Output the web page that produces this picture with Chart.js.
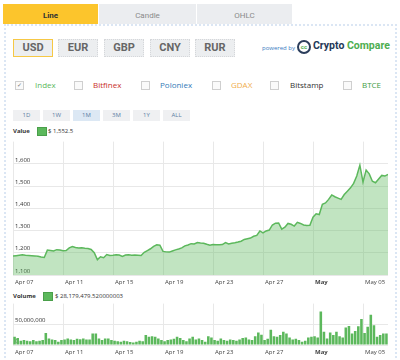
<!DOCTYPE html>
<html>
<head>
<meta charset="utf-8">
<script src="https://cdn.jsdelivr.net/npm/chart.js@4"></script>
<style>
  body { margin: 0; width: 400px; height: 360px; overflow: hidden; background: #fff; font-family: 'Open Sans', sans-serif; position: relative; }
  .abs { position: absolute; }
  .tab { position: absolute; top: 4px; height: 20px; display: flex; align-items: center; justify-content: center; font: 8px Roboto, sans-serif; padding-top: 2px; box-sizing: border-box; color: #8a8a8a; background: #ebedf0; }
  .tab.on { background: #fcc52c; color: #333; font-weight: bold; }
  .box { position: absolute; left: 4px; top: 24px; width: 389px; height: 332px; border: 2px dotted #dbe6f4; border-bottom: none; }
  .cur { position: absolute; top: 39px; width: 38px; height: 16px; font: bold 11px Roboto, sans-serif; line-height: 16px; text-align: center; background: #eceef0; border: 1px dotted #d5d7da; color: #666; }
  .cur.on { border: 1px solid #f6c845; }
  .chk { position: absolute; top: 81px; width: 7px; height: 7px; border: 1px solid #cfcfcf; background: #fafafa; font-size: 6px; line-height: 7px; text-align: center; color: #777; }
  .leg { position: absolute; top: 79px; font-size: 8px; line-height: 12px; }
  .rng { position: absolute; top: 110px; width: 27px; height: 11px; line-height: 11px; text-align: center; background: #eff0f2; font-size: 6px; color: #5b7da3; }
  .rng.on { background: #dce8f4; }
  .hdr { position: absolute; font-size: 6px; line-height: 8px; color: #333; }
  .sq { position: absolute; width: 8px; height: 7px; background: #5cb85c; border: 1px solid #4a9f4a; }
</style>
</head>
<body>
<div class="box"></div>
<div class="tab on" style="left:3px;width:95px;">Line</div>
<div class="tab" style="left:99px;width:97px;">Candle</div>
<div class="tab" style="left:197px;width:95px;">OHLC</div>

<div class="cur on" style="left:13px;">USD</div>
<div class="cur" style="left:58px;">EUR</div>
<div class="cur" style="left:104px;">GBP</div>
<div class="cur" style="left:150px;">CNY</div>
<div class="cur" style="left:195px;">RUR</div>

<div class="abs" style="left:262px;top:44px;font-size:6px;color:#3a7bbf;">powered by</div>
<div class="abs" style="left:297px;top:40px;width:10px;height:10px;border:2px solid #2b3d5b;border-radius:50%;font:bold 6px Roboto,sans-serif;line-height:10px;text-align:center;color:#4dae50;">cc</div>
<div class="abs" style="left:313px;top:39px;font:bold 10.5px Roboto,sans-serif;line-height:14px;"><span style="color:#253858;">Crypto</span> <span style="color:#4dae50;">Compare</span></div>

<div class="chk" style="left:15px;">&#10003;</div><div class="leg" style="left:35px;color:#5cb85c;">Index</div>
<div class="chk" style="left:74px;"></div><div class="leg" style="left:93px;color:#c9302c;">Bitfinex</div>
<div class="chk" style="left:141px;"></div><div class="leg" style="left:160px;color:#337ab7;">Poloniex</div>
<div class="chk" style="left:212px;"></div><div class="leg" style="left:231px;color:#f0ad4e;">GDAX</div>
<div class="chk" style="left:270px;"></div><div class="leg" style="left:290px;color:#333;">Bitstamp</div>
<div class="chk" style="left:343px;"></div><div class="leg" style="left:362px;color:#449d44;">BTCE</div>

<div class="rng" style="left:13px;">1D</div>
<div class="rng" style="left:43px;">1W</div>
<div class="rng on" style="left:73px;">1M</div>
<div class="rng" style="left:103px;">3M</div>
<div class="rng" style="left:133px;">1Y</div>
<div class="rng" style="left:163px;">ALL</div>

<div class="hdr" style="left:13px;top:127px;font-weight:bold;">Value</div>
<div class="sq" style="left:37px;top:127px;"></div>
<div class="hdr" style="left:48px;top:127px;">$ 1,552.5</div>

<div class="hdr" style="left:13px;top:292px;font-weight:bold;">Volume</div>
<div class="sq" style="left:43px;top:292px;"></div>
<div class="hdr" style="left:55px;top:292px;">$ 28,179,479.520000003</div>

<canvas id="priceChart" class="abs" style="left:0;top:136px;" width="400" height="154"></canvas>
<canvas id="volumeChart" class="abs" style="left:0;top:298px;" width="400" height="62"></canvas>

<script>
// one point every 6 hours, starting Apr 07 00:00
const tickLabels = ['Apr 07', 'Apr 11', 'Apr 15', 'Apr 19', 'Apr 23', 'Apr 27', 'May', 'May 05'];
const pointsPerTick = 16;

const prices = [
  1185, 1187, 1189, 1191, 1189, 1188, 1187, 1186, 1184, 1181, 1179, 1212, 1210, 1208, 1214, 1212,
  1209, 1210, 1222, 1228, 1224, 1221, 1222, 1220, 1219, 1215, 1200, 1169, 1182, 1178, 1192, 1188,
  1189, 1191, 1190, 1184, 1190, 1191, 1189, 1190, 1189, 1188, 1202, 1210, 1218, 1229, 1236, 1234,
  1206, 1204, 1203, 1208, 1213, 1217, 1222, 1231, 1235, 1241, 1240, 1246, 1244, 1243, 1238, 1234,
  1237, 1236, 1236, 1237, 1246, 1240, 1243, 1245, 1248, 1252, 1260, 1263, 1266, 1274, 1278, 1298,
  1289, 1298, 1302, 1325, 1333, 1334, 1306, 1315, 1332, 1328, 1320, 1337, 1332, 1325, 1323, 1324,
  1360, 1375, 1372, 1418, 1424, 1440, 1460, 1452, 1446, 1440, 1462, 1477, 1492, 1512, 1545, 1594,
  1518, 1572, 1555, 1522, 1515, 1532, 1548, 1545, 1552.5
];

// volume per 6h, in millions
const volumes = [
  20, 17, 10, 12, 10, 9, 12, 9, 10, 12, 29, 16, 13, 12, 8, 12,
  13, 16, 13, 12, 15, 14, 16, 13, 13, 28, 28, 16, 12, 16, 16, 12,
  10, 9, 8, 10, 9, 7, 6, 8, 10, 9, 24, 20, 21, 20, 16, 12,
  9, 12, 13, 15, 20, 17, 12, 9, 16, 20, 13, 16, 12, 8, 21, 18,
  12, 10, 16, 12, 10, 13, 12, 10, 13, 17, 18, 13, 12, 21, 30, 25,
  12, 15, 37, 21, 20, 24, 32, 28, 18, 13, 15, 12, 8, 10, 18, 20,
  21, 18, 81, 32, 16, 30, 24, 32, 21, 18, 42, 46, 28, 34, 45, 63,
  29, 44, 73, 48, 20, 24, 28, 28
];

const gridColor = '#e8e8e8';
const tickFont = { family: 'Open Sans', size: 6 };

function xScale(maxX) {
  return {
    type: 'linear', min: 0, max: maxX, offset: false,
    afterBuildTicks: a => { a.ticks = a.ticks.filter(t => t.value % pointsPerTick === 0 && t.value < maxX); },
    afterFit: a => { a.height = 15; },
    grid: { color: gridColor, drawTicks: false, offset: false },
    border: { display: false },
    ticks: {
      stepSize: pointsPerTick, autoSkip: false, maxRotation: 0, align: 'start', labelOffset: 2, padding: 4,
      color: '#444',
      font: c => (c.tick && c.tick.value === 6 * pointsPerTick) ? { family: 'Open Sans', size: 6, weight: 'bold' } : tickFont,
      callback: v => tickLabels[v / pointsPerTick]
    }
  };
}

function yScale(min, max, step, fmt) {
  return {
    min: min, max: max,
    afterFit: a => { a.width = 0; },
    grid: { color: c => c.tick.value === max ? 'transparent' : gridColor, drawTicks: false },
    border: { display: false },
    ticks: {
      stepSize: step, mirror: true, padding: 2, labelOffset: -4, color: '#333', font: tickFont,
      callback: v => v === max ? '' : fmt(v)
    }
  };
}

new Chart(document.getElementById('priceChart'), {
  type: 'line',
  data: {
    datasets: [{
      data: prices.map((p, i) => ({ x: i, y: p })),
      borderColor: '#5cb85c',
      backgroundColor: 'rgba(92,184,92,0.38)',
      borderWidth: 1.5,
      fill: 'start',
      pointRadius: 0,
      tension: 0
    }]
  },
  options: {
    responsive: false,
    animation: false,
    layout: { padding: { left: 13, right: 12, top: 2, bottom: 0 } },
    plugins: { legend: { display: false }, tooltip: { enabled: false } },
    scales: {
      x: xScale(prices.length - 1),
      y: yScale(1100, 1700, 100, v => v.toLocaleString('en-US'))
    }
  }
});

new Chart(document.getElementById('volumeChart'), {
  type: 'bar',
  data: {
    datasets: [{
      data: volumes.map((v, i) => ({ x: i + 0.5, y: v * 1e6 })),
      backgroundColor: '#5cb85c',
      categoryPercentage: 1,
      barPercentage: 0.82
    }]
  },
  options: {
    responsive: false,
    animation: false,
    layout: { padding: { left: 13, right: 12, top: 4, bottom: 0 } },
    plugins: { legend: { display: false }, tooltip: { enabled: false } },
    scales: {
      x: xScale(volumes.length),
      y: yScale(0, 100e6, 50e6, v => v.toLocaleString('en-US'))
    }
  }
});
</script>
</body>
</html>
